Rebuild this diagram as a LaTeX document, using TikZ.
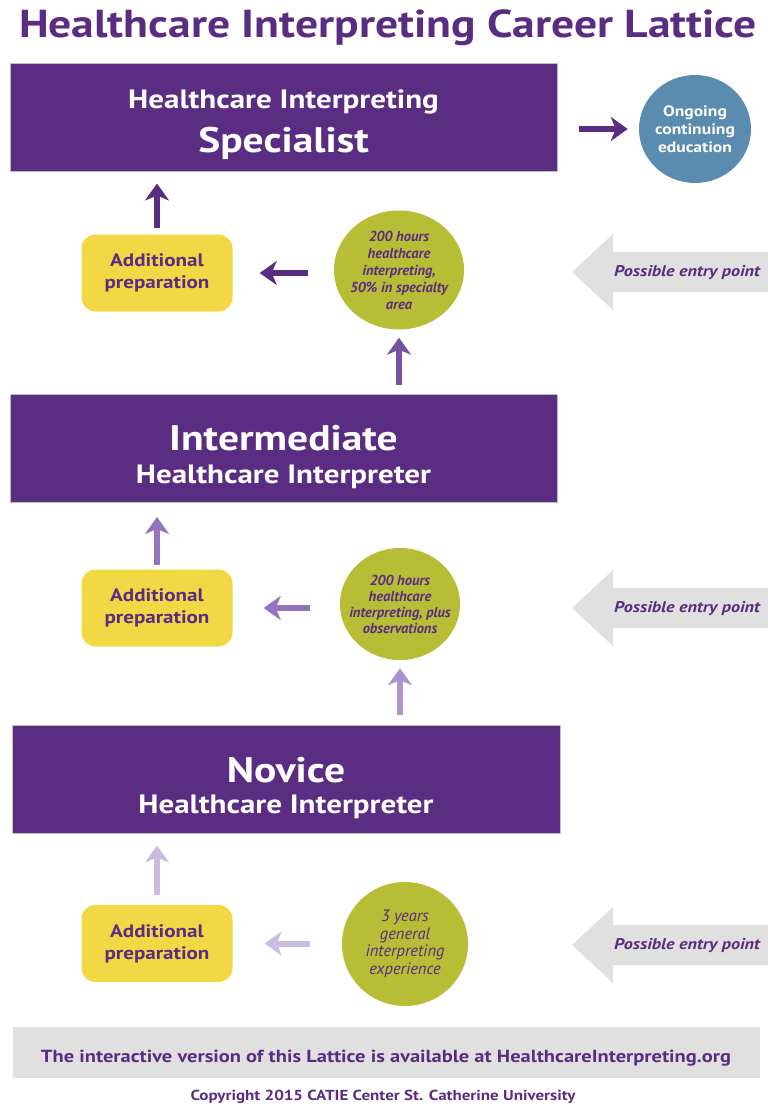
\documentclass[tikz,border=0pt]{standalone}
\usepackage{fontspec}
\setmainfont{PT Sans}[FakeStretch=1.17]
\newfontfamily\narrowfont{PT Sans}
\usetikzlibrary{shapes.geometric,arrows.meta}

\definecolor{latpurple}{RGB}{90,44,130}
\definecolor{eduBlue}{RGB}{90,140,175}
\definecolor{reqOlive}{RGB}{183,189,52}
\definecolor{prepYellow}{RGB}{242,216,68}
\definecolor{entryGray}{RGB}{224,224,224}
\definecolor{arrA}{RGB}{90,44,130}
\definecolor{arrB}{RGB}{118,82,163}
\definecolor{arrC}{RGB}{148,116,190}
\definecolor{arrD}{RGB}{172,148,206}
\definecolor{arrE}{RGB}{202,188,224}

\begin{document}
\begin{tikzpicture}[x=1pt,y=-1pt]
  \tikzstyle{level}    =[rectangle, draw=black!25, line width=1pt, fill=latpurple, minimum width=547pt, minimum height=108pt]
  \tikzstyle{big}      =[text=white, font=\fontsize{35.5}{40}\selectfont\bfseries, anchor=base, inner sep=0pt]
  \tikzstyle{small}    =[text=white, font=\fontsize{26.5}{30}\selectfont\bfseries, anchor=base, inner sep=0pt]
  \tikzstyle{prep}     =[rectangle, rounded corners=14pt, fill=prepYellow, text=latpurple, minimum width=151pt, minimum height=77pt, align=center, font=\fontsize{18}{22}\selectfont\bfseries]
  \tikzstyle{req}      =[ellipse, fill=reqOlive, inner sep=0pt]
  \tikzstyle{reqtext}  =[text=latpurple, align=center, font=\narrowfont\fontsize{14.5}{17}\selectfont\bfseries\itshape]
  \tikzstyle{go}       =[line width=6pt, -{Stealth[length=17pt,width=24pt,inset=5pt]}]
  \tikzstyle{entry}    =[fill=entryGray]
  \tikzstyle{entrytext}=[text=latpurple, font=\fontsize{15.5}{18}\selectfont\bfseries\itshape]
  \useasboundingbox (0,0) rectangle (768,1106);

  \node[text=latpurple, font=\fontsize{39}{40}\selectfont\bfseries, anchor=base] (title) at (388,37) {Healthcare Interpreting Career Lattice};

  % specialist
  \node[level] (spec) at (283.5,117) {};
  \node[small] (spec1) at (283.5,108) {Healthcare Interpreting};
  \node[big]   (spec2) at (283.5,152) {Specialist};
  \node[ellipse, fill=eduBlue, minimum width=112pt, minimum height=108pt] (edu) at (695,129) {};
  \node[text=white, align=center, font=\fontsize{15}{18}\selectfont\bfseries] (edut) at (edu) {Ongoing\\continuing\\education};
  \node[prep] (prep1) at (157,273) {Additional\\preparation};
  \node[req, minimum width=130pt, minimum height=119pt] (req1) at (399,270) {};
  \node[reqtext] (req1t) at (req1) {200 hours\\healthcare\\interpreting,\\50\% in specialty\\area};
  \fill[entry] (572,272) -- (613,234) -- (613,252) -- (768,252) -- (768,292) -- (613,292) -- (613,310) -- cycle;
  \node[entrytext] (entry1) at (687,273) {Possible entry point};

  % intermediate
  \node[level] (inter) at (283.5,448.5) {};
  \node[big]   (inter1) at (283.5,450) {Intermediate};
  \node[small] (inter2) at (283.5,483) {Healthcare Interpreter};
  \node[prep] (prep2) at (157,608) {Additional\\preparation};
  \node[req, minimum width=120pt, minimum height=112pt] (req2) at (400,604) {};
  \node[reqtext, font=\narrowfont\fontsize{14.5}{16}\selectfont\bfseries\itshape] (req2t) at (req2) {200 hours\\healthcare\\interpreting, plus\\observations};
  \fill[entry] (572,608) -- (613,570) -- (613,588) -- (768,588) -- (768,628) -- (613,628) -- (613,646) -- cycle;
  \node[entrytext] (entry2) at (687,609) {Possible entry point};

  % novice
  \node[level, minimum width=548pt] (novice) at (286,779) {};
  \node[big]   (novice1) at (286,782) {Novice};
  \node[small] (novice2) at (286,813) {Healthcare Interpreter};
  \node[prep] (prep3) at (157,943.5) {Additional\\preparation};
  \node[req, minimum width=126pt, minimum height=124pt] (req3) at (405,944) {};
  \node[reqtext, font=\narrowfont\fontsize{16.5}{17.5}\selectfont\itshape] (req3t) at (req3) {3 years\\general\\interpreting\\experience};
  \fill[entry] (572,945) -- (613,907) -- (613,925) -- (768,925) -- (768,965) -- (613,965) -- (613,983) -- cycle;
  \node[entrytext] (entry3) at (687,946) {Possible entry point};

  \draw[go, arrA, shorten <=21pt, shorten >=11pt] (spec.east |- edu.west) -- (edu.west);
  \draw[go, arrA, shorten <=6pt, shorten >=12pt] (prep1.north) -- (prep1.north |- spec.south);
  \draw[go, arrA, shorten <=26pt, shorten >=27pt] (req1.west |- prep1) -- (prep1.east);
  \draw[go, arrB, shorten <=9pt, shorten >=8pt] (inter.north -| req1) -- (req1.south);
  \draw[go, arrC, shorten <=4pt, shorten >=14pt] (prep2.north) -- (prep2.north |- inter.south);
  \draw[go, arrC, shorten <=30pt, shorten >=31pt] (req2.west |- prep2) -- (prep2.east);
  \draw[go, arrD, shorten <=10pt, shorten >=8pt] (novice.north -| req2) -- (req2.south);
  \draw[go, arrE, shorten <=10pt, shorten >=12pt] (prep3.north) -- (prep3.north |- novice.south);
  \draw[go, arrE, shorten <=32pt, shorten >=32pt] (req3.west |- prep3) -- (prep3.east);

  \node[fill=entryGray, minimum width=747pt, minimum height=51pt] (webbar) at (386.5,1052.5) {};
  \node[text=latpurple, font=\fontsize{17.5}{20}\selectfont\bfseries, anchor=base] (web) at (386,1062) {The interactive version of this Lattice is available at HealthcareInterpreting.org};
  \node[text=latpurple, font=\fontsize{14.5}{16}\selectfont\bfseries, anchor=base] (copy) at (383,1100) {Copyright 2015 CATIE Center St. Catherine University};
\end{tikzpicture}
\end{document}
